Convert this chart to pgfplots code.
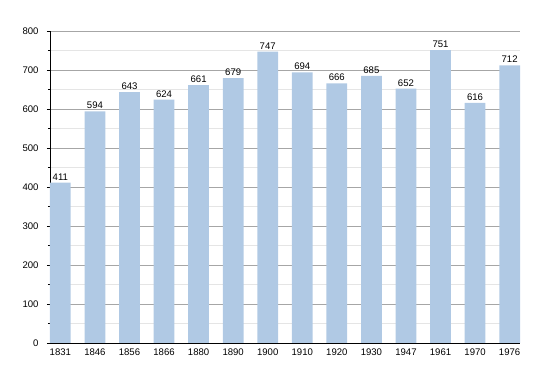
\documentclass[border=0pt]{standalone}
\usepackage{pgfplots}
\pgfplotsset{compat=1.18}
\usepackage{fontspec}
\setmainfont{Liberation Sans}
\definecolor{barblue}{HTML}{B0C9E4}
\begin{document}
\begin{tikzpicture}
\begin{axis}[
  scale only axis,
  width=470bp, height=312bp,
  xmin=-0.3, xmax=13.3,
  ymin=0, ymax=800,
  ytick={0,100,...,800},
  minor y tick num=1,
  xtick={0,...,13},
  xticklabels={1831,1846,1856,1866,1880,1890,1900,1910,1920,1930,1947,1961,1970,1976},
  axis lines=left,
  axis line style={-,black,line width=0.8pt},
  tick align=outside,
  major x tick style={draw=none},
  major tick length=3bp,
  minor tick length=2bp,
  tick style={black},
  ymajorgrids, yminorgrids,
  major grid style={gray!70,line width=0.5pt},
  minor grid style={gray!20,line width=0.5pt},
  /pgf/number format/assume math mode=true,
  tick label style={font=\fontsize{9.6}{11}\selectfont},
  yticklabel style={xshift=-5bp},
  xticklabel style={yshift=1bp},
  nodes near coords,
  every node near coord/.append style={font=\fontsize{9.6}{11}\selectfont, black, yshift=-1bp},
]
\addplot[ybar, bar width=0.6, fill=barblue, draw=none] coordinates {
(0,411) (1,594) (2,643) (3,624) (4,661) (5,679) (6,747) (7,694) (8,666) (9,685) (10,652) (11,751) (12,616) (13,712)
};
\end{axis}
\path ([shift={(-50bp,-30bp)}]current axis.south west) rectangle ([shift={(30bp,31bp)}]current axis.north east);
\end{tikzpicture}
\end{document}
